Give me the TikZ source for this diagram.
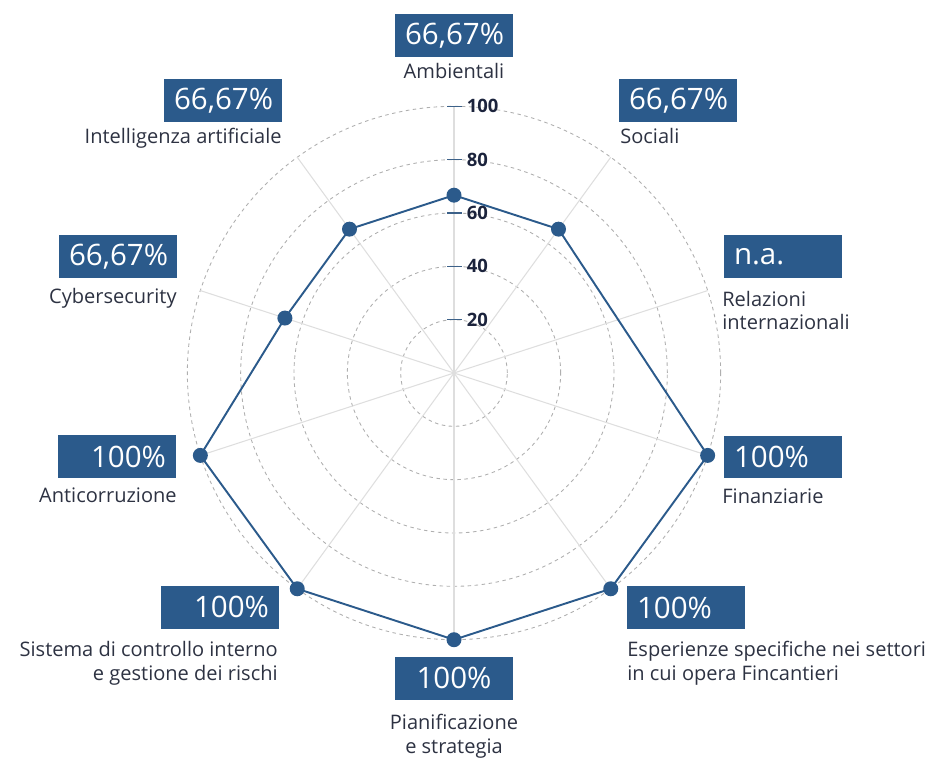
\documentclass[tikz,border=0pt]{standalone}
\usepackage{fontspec}
\setmainfont{Open Sans}

\definecolor{boxblue}{RGB}{43,90,139}
\definecolor{labgray}{RGB}{45,50,66}
\definecolor{ticknavy}{RGB}{27,35,60}
\definecolor{gridgray}{RGB}{175,175,175}
\definecolor{spokegray}{RGB}{222,222,222}

\begin{document}
\begin{tikzpicture}[x=0.02cm, y=0.02cm,
    pct/.style = {fill=boxblue, text=white, font=\fontsize{16.8}{19}\selectfont,
                  text width=1.96cm, minimum height=0.86cm, inner xsep=0.2cm, inner ysep=0pt},
    lab/.style = {text=labgray, font=\fontsize{11.4}{13.6}\selectfont, inner sep=0pt},
    dot/.style = {circle, fill=boxblue, minimum size=0.3cm, inner sep=0pt}]
    \useasboundingbox (-454,-387) rectangle (474,373);
    \coordinate (c) at (0,0);
    % grid
    \foreach \r in {1,...,5}
        \draw[gridgray, line width=0.5pt, dash pattern=on 2pt off 2pt] (c) circle ({\r*53.33});
    \foreach \a in {90,54,...,-234}
        \draw[spokegray, line width=0.6pt] (c) -- (\a:266.7);
    % scale
    \foreach \v in {20,40,60,80,100}{
        \draw[boxblue!80!gray, line width=0.8pt] (-7,{\v*2.667}) -- (8,{\v*2.667});
        \node[anchor=west, inner sep=0pt, text=ticknavy, font=\fontsize{10.5}{12}\selectfont\bfseries]
            (t\v) at (12.5,{\v*2.667}) {\v};
    }
    % values
    \coordinate (pamb) at (90:177.8);
    \coordinate (psoc) at (54:177.8);
    \coordinate (pfin) at (-18:266.7);
    \coordinate (pesp) at (-54:266.7);
    \coordinate (ppia) at (-90:266.7);
    \coordinate (psis) at (-126:266.7);
    \coordinate (pant) at (-162:266.7);
    \coordinate (pcyb) at (162:177.8);
    \coordinate (pint) at (126:177.8);
    \draw[boxblue, line width=1.1pt, line join=round] (pamb) -- (psoc) -- (pfin) -- (pesp) -- (ppia)
        -- (psis) -- (pant) -- (pcyb) -- (pint) -- cycle;
    \foreach \p in {amb,soc,fin,esp,pia,sis,ant,cyb,int}
        \node[dot] (d\p) at (p\p) {};
    % boxes
    \node[pct, align=center] (bamb) at (0,337.5) {66,67\%};
    \node[pct, align=left] (bsoc) at (224,272) {66,67\%};
    \node[pct, align=left] (brel) at (329,116.5) {n.a.};
    \node[pct, align=left] (bfin) at (329,-84) {100\%};
    \node[pct, align=left] (besp) at (232,-234.5) {100\%};
    \node[pct, align=center] (bpia) at (0,-305) {100\%};
    \node[pct, align=right] (bsis) at (-234,-234) {100\%};
    \node[pct, align=right] (bant) at (-337,-83.5) {100\%};
    \node[pct, align=right] (bcyb) at (-336,116.5) {66,67\%};
    \node[pct, align=right] (bint) at (-231,272) {66,67\%};
    % labels (base = last line)
    \node[lab, anchor=base] (lamb) at (0,294) {Ambientali};
    \node[lab, anchor=base west] (lsoc) at (166,229) {Sociali};
    \node[lab, anchor=base west, align=left] (lrel) at (268,43) {Relazioni\\internazionali};
    \node[lab, anchor=base west] (lfin) at (268,-130) {Finanziarie};
    \node[lab, anchor=base west, align=left] (lesp) at (173,-307) {Esperienze specifiche nei settori\\in cui opera Fincantieri};
    \node[lab, anchor=base, align=center] (lpia) at (0,-380) {Pianificazione\\e strategia};
    \node[lab, anchor=base east, align=right] (lsis) at (-176,-307) {Sistema di controllo interno\\e gestione dei rischi};
    \node[lab, anchor=base east] (lant) at (-277,-129) {Anticorruzione};
    \node[lab, anchor=base east] (lcyb) at (-277,69) {Cybersecurity};
    \node[lab, anchor=base east] (lint) at (-172,229) {Intelligenza artificiale};
\end{tikzpicture}
\end{document}
